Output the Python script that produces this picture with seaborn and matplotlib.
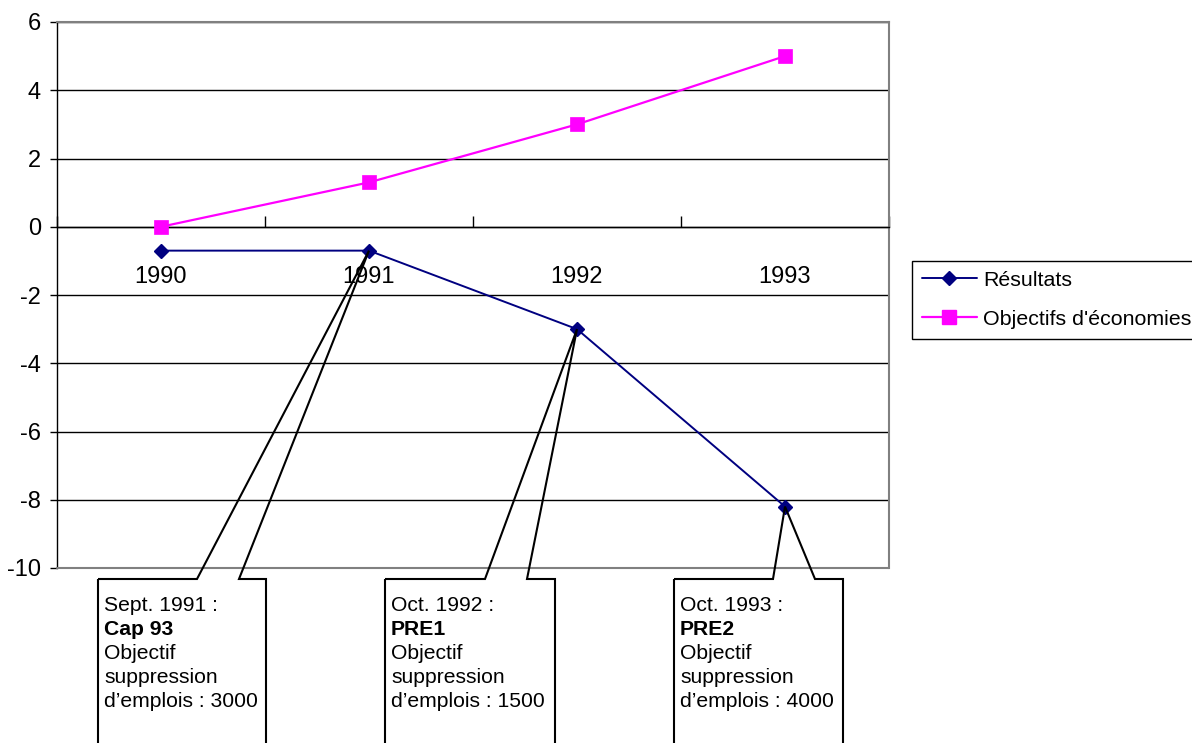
import numpy as np
import pandas as pd
import matplotlib
matplotlib.use("Agg")
import matplotlib.pyplot as plt
from matplotlib.patches import Polygon
from matplotlib.lines import Line2D
from matplotlib.ticker import NullFormatter
from matplotlib.transforms import IdentityTransform
import seaborn as sns

# ---- data -------------------------------------------------------------
years = ["1990", "1991", "1992", "1993"]
resultats = [-0.7, -0.7, -3.0, -8.2]
objectifs = [0.0, 1.3, 3.0, 5.0]
series_names = ["Résultats", "Objectifs d'économies"]
y_ticks = [-10, -8, -6, -4, -2, 0, 2, 4, 6]

callout_years = ["1991", "1992", "1993"]
callout_dates = ["Sept. 1991 :", "Oct. 1992 :", "Oct. 1993 :"]
callout_plans = ["Cap 93", "PRE1", "PRE2"]
callout_jobs = [3000, 1500, 4000]

# ---- style ------------------------------------------------------------
sns.set_theme(style="white")
plt.rcParams["font.family"] = ["Liberation Sans", "DejaVu Sans"]
plt.rcParams["axes.unicode_minus"] = False

NAVY = "#000080"
MAGENTA = "#FF00FF"
BORDER = "#808080"
TICK_FS = 17
NOTE_FS = 15.2
LEGEND_FS = 15.4

W, H = 1192, 743
fig = plt.figure(figsize=(W / 100, H / 100), dpi=100)
fig.patch.set_facecolor("white")
ax = fig.add_axes([57 / W, 1 - 568 / H, 832 / W, 546 / H])

pos = np.arange(len(years))
df = pd.DataFrame({"pos": pos, series_names[0]: resultats, series_names[1]: objectifs})

sns.lineplot(data=df, x="pos", y=series_names[0], ax=ax, color=NAVY,
             linewidth=1.4, marker="D", markersize=7, markeredgecolor=NAVY,
             markeredgewidth=1, zorder=4)
sns.lineplot(data=df, x="pos", y=series_names[1], ax=ax, color=MAGENTA,
             linewidth=1.6, marker="s", markersize=9.5, markeredgecolor=MAGENTA,
             markeredgewidth=0.5, zorder=4)

# ---- axes -------------------------------------------------------------
ax.set_xlim(-0.5, len(years) - 0.5)
ax.set_ylim(min(y_ticks), max(y_ticks))
ax.set_xlabel("")
ax.set_ylabel("")

ax.set_yticks(y_ticks)
ax.set_yticklabels([str(t) for t in y_ticks])
ax.tick_params(axis="y", left=True, direction="out", length=5, width=1,
               color="black", pad=6.5, labelsize=TICK_FS, labelcolor="black")
ax.yaxis.grid(True, color="black", linewidth=1)
ax.set_axisbelow(True)

# category axis crossing at zero, tick marks between categories
ax.spines["bottom"].set_position(("data", 0))
ax.set_xticks(np.arange(-0.5, len(years), 1.0))
ax.xaxis.set_major_formatter(NullFormatter())
ax.set_xticks(pos, minor=True)
ax.set_xticklabels(years, minor=True)
ax.tick_params(axis="x", which="major", bottom=True, direction="in",
               length=8, width=1, color="black")
ax.tick_params(axis="x", which="minor", bottom=True, length=0, pad=28,
               labelsize=TICK_FS, labelcolor="black")

for side in ["left", "bottom"]:
    ax.spines[side].set_color("black")
    ax.spines[side].set_linewidth(1)
for side in ["top", "right"]:
    ax.spines[side].set_color(BORDER)
    ax.spines[side].set_linewidth(1.5)
ax.axhline(min(y_ticks), color=BORDER, linewidth=1.5, zorder=3, clip_on=False)

# ---- legend -----------------------------------------------------------
handles = [
    Line2D([], [], color=NAVY, linewidth=1.4, marker="D", markersize=7,
           markeredgecolor=NAVY),
    Line2D([], [], color=MAGENTA, linewidth=1.6, marker="s", markersize=9.5,
           markeredgecolor=MAGENTA),
]
leg = fig.legend(handles, series_names, loc="upper left",
                 bbox_to_anchor=(912 / W, 1 - 261 / H),
                 bbox_transform=fig.transFigure, frameon=True, fancybox=False,
                 edgecolor="black", framealpha=1, fontsize=LEGEND_FS,
                 handlelength=2.6, handletextpad=0.27, labelspacing=0.95,
                 borderpad=0.45, borderaxespad=0)
leg.get_frame().set_linewidth(1)
for t in leg.get_texts():
    t.set_color("black")

# ---- callouts (pixel layout, tip anchored on the data point) -----------
box_layout = [(98, 266, 197, 239), (385, 555, 485, 527), (674, 843, 773, 815)]
box_top, box_bottom = 579, 770

fig.canvas.draw()
for yr, (left, right, bl, br), date, plan, jobs in zip(
        callout_years, box_layout, callout_dates, callout_plans, callout_jobs):
    i = years.index(yr)
    tx, ty = ax.transData.transform((pos[i], resultats[i]))
    yt = H - box_top
    yb = H - box_bottom
    verts = [(left, yt), (bl, yt), (tx, ty), (br, yt), (right, yt),
             (right, yb), (left, yb)]
    fig.add_artist(Polygon(verts, closed=True, facecolor="none",
                           edgecolor="black", linewidth=1.5,
                           transform=IdentityTransform(), zorder=5))
    lines = [(date, "normal"), (plan, "bold"), ("Objectif", "normal"),
             ("suppression", "normal"), (f"d\u2019emplois : {jobs}", "normal")]
    for k, (txt, wt) in enumerate(lines):
        fig.text((left + 6) / W, 1 - (611 + 24 * k) / H, txt, ha="left",
                 va="baseline", fontsize=NOTE_FS, fontweight=wt, color="black")

fig.savefig("out.png", dpi=100, facecolor="white")
